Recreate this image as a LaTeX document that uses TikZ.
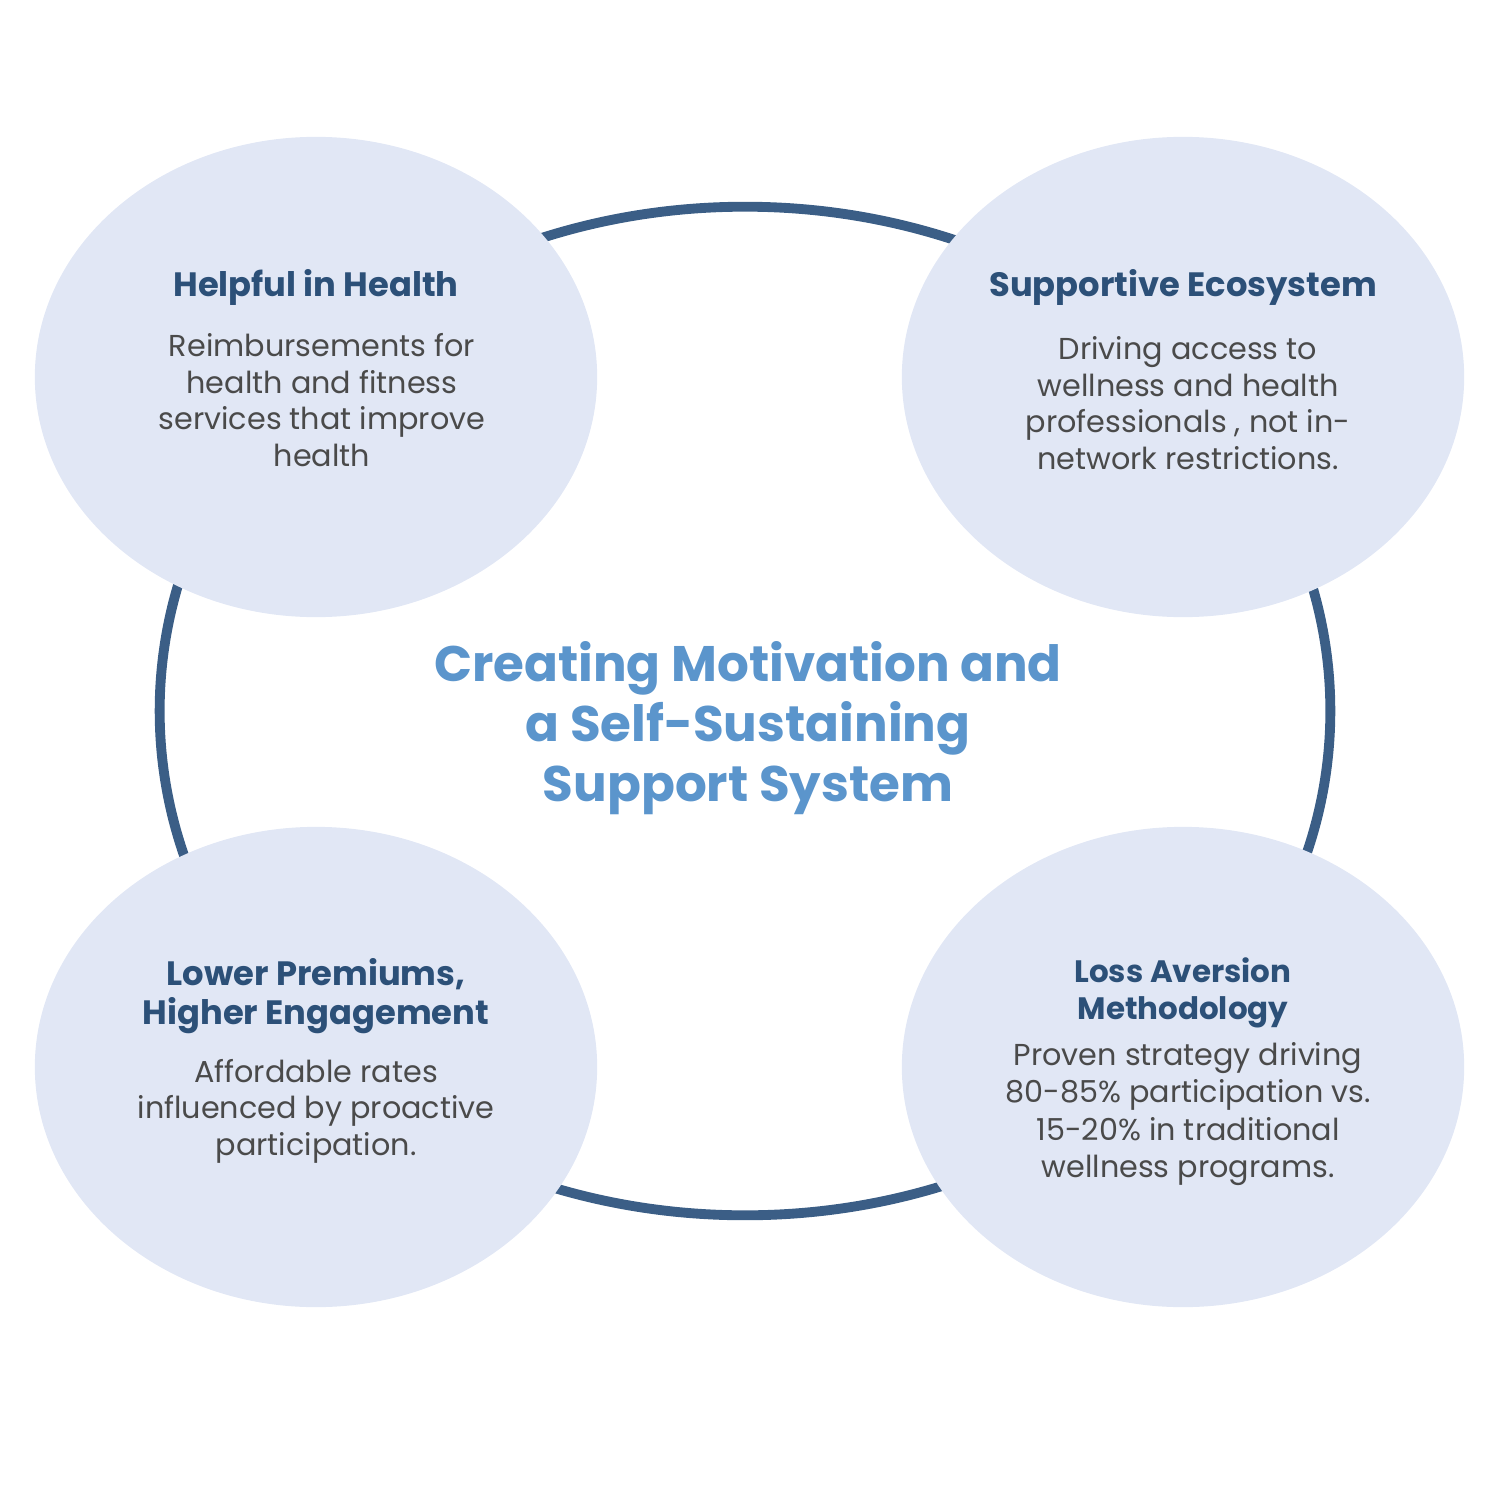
\documentclass[tikz,border=0pt]{standalone}
\usepackage{fontspec}
\setmainfont{Poppins}
\usetikzlibrary{positioning, shapes.geometric}
\definecolor{ringblue}{HTML}{3B5E86}
\definecolor{bubble}{HTML}{E1E7F5}
\definecolor{headblue}{HTML}{2C5078}
\definecolor{bodygray}{HTML}{4A4A4A}
\definecolor{centerblue}{HTML}{5B95CC}

\begin{document}
\begin{tikzpicture}[
        x=0.01cm, y=-0.01cm,
        bubblebox/.style={ellipse, fill=bubble, minimum width=5.62cm, minimum height=4.8cm, inner sep=0pt},
        head/.style={align=center, text=headblue, font=\fontsize{9.6}{11.2}\selectfont\bfseries},
        body/.style={align=center, text=bodygray, font=\fontsize{8.6}{10.4}\selectfont},
        ring/.style={ellipse, draw=ringblue, line width=2.8pt, minimum width=11.7cm, minimum height=10.08cm}
    ]
        \useasboundingbox (0,0) rectangle (1500,1500);

        \node[ring] (loop) at (745,711) {};

        \node[bubblebox] (health) at (316,377) {};
        \node[bubblebox] (eco) at (1183,377) {};
        \node[bubblebox] (premium) at (316,1067) {};
        \node[bubblebox] (loss) at (1183,1067) {};

        \node[align=center, text=centerblue, font=\fontsize{14.2}{17}\selectfont\bfseries] (goal) at (748,728)
            {Creating Motivation and\\a Self-Sustaining\\Support System};

        \node[head] (healthhead) at (316,287) {Helpful in Health};
        \node[body] (healthtext) at (322,400) {Reimbursements for\\health and fitness\\services that improve\\health};

        \node[head] (ecohead) at (1183,287) {Supportive Ecosystem};
        \node[body] (ecotext) at (1188,403) {Driving access to\\wellness and health\\professionals , not in-\\network restrictions.};

        \node[head] (premiumhead) at (316,996) {Lower Premiums,\\Higher Engagement};
        \node[body] (premiumtext) at (316,1111) {Affordable rates\\influenced by proactive\\participation.};

        \node[head, font=\fontsize{8.8}{10.6}\selectfont\bfseries] (losshead) at (1183,993) {Loss Aversion\\Methodology};
        \node[body, font=\fontsize{8.6}{10.6}\selectfont] (losstext) at (1188,1114) {Proven strategy driving\\80-85\% participation vs.\\15-20\% in traditional\\wellness programs.};
    \end{tikzpicture}
\end{document}
